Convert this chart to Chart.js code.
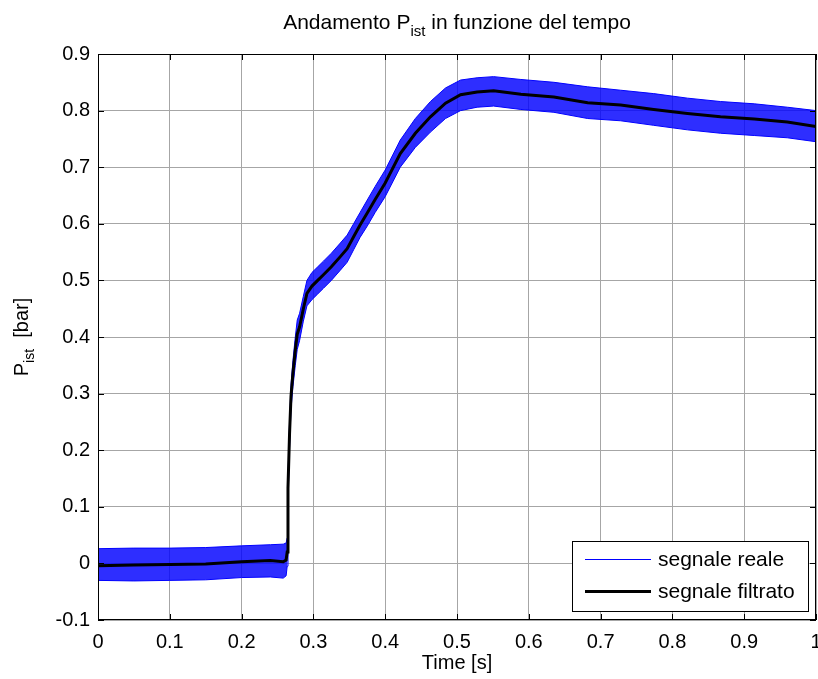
<!DOCTYPE html>
<html>
<head>
<meta charset="utf-8">
<script src="https://cdn.jsdelivr.net/npm/chart.js@4.4.0/dist/chart.umd.min.js"></script>
<style>
  html, body { margin: 0; padding: 0; background: #fff; }
  canvas { display: block; }
</style>
</head>
<body>
<canvas id="chart" width="818" height="679"></canvas>
<script>
// tempo [s]
const timeValues = [
  0, 0.05, 0.1, 0.15, 0.2, 0.24, 0.258, 0.262, 0.2635, 0.2646,
  0.2668, 0.2688, 0.2715, 0.2748, 0.2775, 0.2808, 0.286, 0.291, 0.298, 0.306,
  0.314, 0.325, 0.3375, 0.347, 0.356, 0.365, 0.375, 0.386, 0.4, 0.421,
  0.442, 0.463, 0.484, 0.505, 0.528, 0.551, 0.589, 0.635, 0.682, 0.728,
  0.774, 0.821, 0.867, 0.914, 0.96, 1.0
];

// segnale filtrato [bar]
const filteredValues = [
  -0.004, -0.003, -0.002, -0.001, 0.003, 0.005, 0.003, 0.006, 0.02, 0.133,
  0.23, 0.295, 0.336, 0.377, 0.405, 0.418, 0.45, 0.477, 0.49, 0.50,
  0.51, 0.524, 0.542, 0.556, 0.577, 0.598, 0.619, 0.643, 0.672, 0.724,
  0.76, 0.789, 0.813, 0.828, 0.833, 0.835, 0.829, 0.824, 0.814, 0.81,
  0.802, 0.795, 0.789, 0.785, 0.78, 0.772
];

// segnale reale: inviluppo superiore e inferiore del rumore
const rawUpper = [
  0.026, 0.027, 0.027, 0.028, 0.031, 0.033, 0.034, 0.036, 0.045, 0.15,
  0.25, 0.315, 0.358, 0.40, 0.43, 0.442, 0.472, 0.50, 0.514, 0.524,
  0.534, 0.548, 0.566, 0.58, 0.60, 0.62, 0.642, 0.666, 0.695, 0.748,
  0.786, 0.816, 0.84, 0.854, 0.858, 0.86, 0.855, 0.85, 0.842, 0.836,
  0.83, 0.822, 0.816, 0.812, 0.806, 0.80
];
const rawLower = [
  -0.03, -0.031, -0.03, -0.029, -0.025, -0.024, -0.026, -0.022, -0.005, 0.11,
  0.205, 0.272, 0.312, 0.35, 0.378, 0.394, 0.428, 0.455, 0.466, 0.476,
  0.486, 0.50, 0.518, 0.532, 0.554, 0.576, 0.596, 0.62, 0.648, 0.70,
  0.735, 0.762, 0.786, 0.80, 0.806, 0.808, 0.802, 0.797, 0.786, 0.782,
  0.774, 0.766, 0.76, 0.756, 0.752, 0.745
];

const xTicks = [0, 0.1, 0.2, 0.3, 0.4, 0.5, 0.6, 0.7, 0.8, 0.9, 1];
const xTickLabels = ['0', '0.1', '0.2', '0.3', '0.4', '0.5', '0.6', '0.7', '0.8', '0.9', '1'];
const yTicks = [-0.1, 0, 0.1, 0.2, 0.3, 0.4, 0.5, 0.6, 0.7, 0.8, 0.9];
const yTickLabels = ['-0.1', '0', '0.1', '0.2', '0.3', '0.4', '0.5', '0.6', '0.7', '0.8', '0.9'];

const FONT = "'Liberation Sans', Arial, Helvetica, sans-serif";

function toPoints(values) {
  return values.map((v, i) => ({ x: timeValues[i], y: v }));
}

// testo con pedice (es. P_ist)
function drawSubText(ctx, parts, x, y, size, align) {
  const subSize = Math.round(size * 0.72);
  let total = 0;
  parts.forEach(p => {
    ctx.font = (p.sub ? subSize : size) + 'px ' + FONT;
    p.w = ctx.measureText(p.text).width;
    total += p.w;
  });
  let cx = align === 'center' ? x - total / 2 : x;
  parts.forEach(p => {
    ctx.font = (p.sub ? subSize : size) + 'px ' + FONT;
    ctx.fillText(p.text, cx, p.sub ? y + size * 0.32 : y);
    cx += p.w;
  });
}

const matlabDecor = {
  id: 'matlabDecor',
  afterDraw(chart) {
    const ctx = chart.ctx;
    const a = chart.chartArea;
    const xs = chart.scales.x, ys = chart.scales.y;
    ctx.save();

    // cornice e tacche interne
    ctx.strokeStyle = '#000';
    ctx.lineWidth = 1;
    ctx.strokeRect(a.left + 0.5, a.top + 0.5, a.right - a.left - 1, a.bottom - a.top - 1);
    ctx.beginPath();
    xTicks.forEach(v => {
      const px = Math.round(xs.getPixelForValue(v)) + 0.5;
      ctx.moveTo(px, a.bottom); ctx.lineTo(px, a.bottom - 6);
      ctx.moveTo(px, a.top); ctx.lineTo(px, a.top + 6);
    });
    yTicks.forEach(v => {
      const py = Math.round(ys.getPixelForValue(v)) + 0.5;
      ctx.moveTo(a.left, py); ctx.lineTo(a.left + 6, py);
      ctx.moveTo(a.right, py); ctx.lineTo(a.right - 6, py);
    });
    ctx.stroke();

    ctx.fillStyle = '#000';
    ctx.textBaseline = 'alphabetic';
    ctx.textAlign = 'left';

    // titolo
    drawSubText(ctx, [
      { text: 'Andamento P' }, { text: 'ist', sub: true }, { text: ' in funzione del tempo' }
    ], (a.left + a.right) / 2, 29, 21, 'center');

    // etichetta asse x
    ctx.font = '20px ' + FONT;
    ctx.textAlign = 'center';
    ctx.fillText('Time [s]', (a.left + a.right) / 2, 669);
    ctx.textAlign = 'left';

    // etichetta asse y (ruotata)
    ctx.save();
    ctx.translate(28, (a.top + a.bottom) / 2);
    ctx.rotate(-Math.PI / 2);
    drawSubText(ctx, [
      { text: 'P' }, { text: 'ist', sub: true }, { text: '  [bar]' }
    ], 0, 0, 20, 'center');
    ctx.restore();

    // legenda
    const box = { x: 572, y: 541, w: 236, h: 70 };
    ctx.fillStyle = '#fff';
    ctx.fillRect(box.x, box.y, box.w, box.h);
    ctx.strokeStyle = '#000';
    ctx.lineWidth = 1;
    ctx.strokeRect(box.x + 0.5, box.y + 0.5, box.w, box.h);
    const items = chart.data.datasets.filter(d => d.label);
    items.forEach((d, i) => {
      const ly = box.y + 18 + i * 32;
      ctx.strokeStyle = d.borderColor;
      ctx.lineWidth = d.borderWidth;
      ctx.beginPath();
      const off = d.borderWidth % 2 ? 0.5 : 0;
      ctx.moveTo(585, ly + off); ctx.lineTo(651, ly + off);
      ctx.stroke();
      ctx.fillStyle = '#000';
      ctx.font = '21px ' + FONT;
      ctx.textBaseline = 'middle';
      ctx.fillText(d.label, 658, ly + 1);
    });
    ctx.restore();
  }
};

new Chart(document.getElementById('chart'), {
  type: 'line',
  data: {
    datasets: [
      {
        label: 'segnale reale',
        data: toPoints(rawUpper),
        borderColor: '#0000ff',
        backgroundColor: 'rgba(0, 0, 255, 0.82)',
        borderWidth: 1,
        pointRadius: 0,
        tension: 0,
        fill: '+1',
        order: 2
      },
      {
        data: toPoints(rawLower),
        borderColor: '#0000ff',
        borderWidth: 1,
        pointRadius: 0,
        tension: 0,
        fill: false,
        order: 2
      },
      {
        label: 'segnale filtrato',
        data: toPoints(filteredValues),
        borderColor: '#000000',
        borderWidth: 3,
        pointRadius: 0,
        tension: 0,
        fill: false,
        order: 0
      }
    ]
  },
  options: {
    responsive: false,
    animation: false,
    devicePixelRatio: 1,
    layout: { padding: { top: 54, right: 2, left: 0, bottom: 0 } },
    plugins: {
      legend: { display: false },
      title: { display: false },
      tooltip: { enabled: false }
    },
    scales: {
      x: {
        type: 'linear',
        min: 0,
        max: 1,
        afterBuildTicks: scale => { scale.ticks = xTicks.map(v => ({ value: v })); },
        afterFit: scale => {
          scale.height = 59;
          scale.paddingLeft = 0;
          scale.paddingRight = 0;
        },
        ticks: {
          callback: (v, i) => xTickLabels[i],
          color: '#000',
          font: { family: FONT, size: 20 },
          padding: 10,
          maxRotation: 0,
          autoSkip: false
        },
        grid: { color: '#a6a6a6', drawTicks: false },
        border: { display: false }
      },
      y: {
        type: 'linear',
        min: -0.1,
        max: 0.9,
        afterBuildTicks: scale => { scale.ticks = yTicks.map(v => ({ value: v })); },
        afterFit: scale => {
          scale.width = 98;
          scale.paddingTop = 0;
          scale.paddingBottom = 0;
        },
        ticks: {
          callback: (v, i) => yTickLabels[i],
          color: '#000',
          font: { family: FONT, size: 20 },
          padding: 8,
          autoSkip: false
        },
        grid: { color: '#a6a6a6', drawTicks: false },
        border: { display: false }
      }
    }
  },
  plugins: [matlabDecor]
});
</script>
</body>
</html>
